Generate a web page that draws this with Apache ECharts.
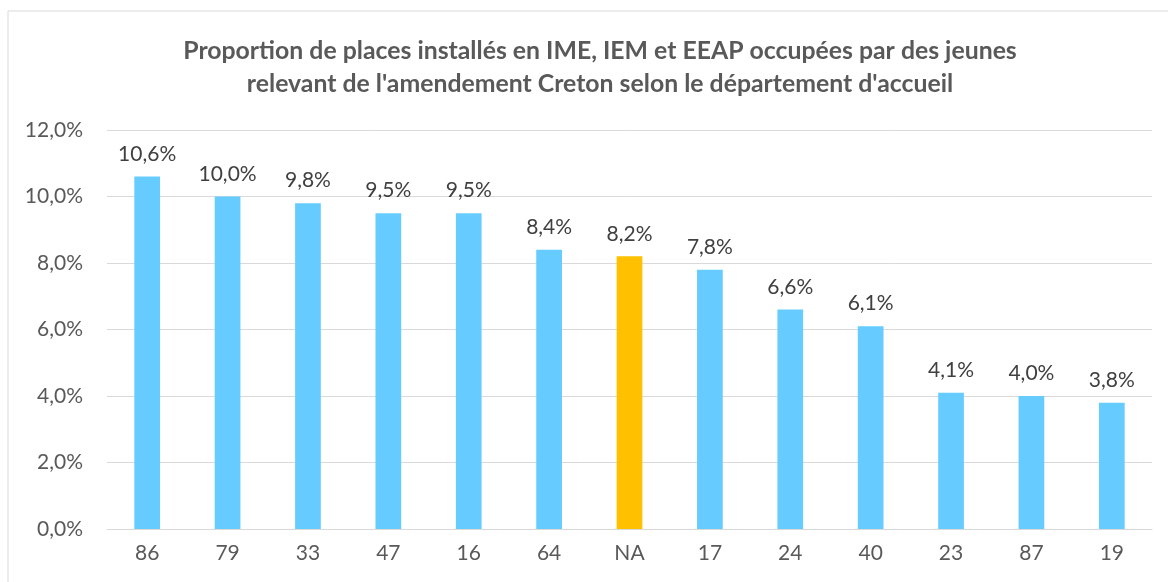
<!DOCTYPE html>
<html>
<head>
<meta charset="utf-8">
<script src="https://cdn.jsdelivr.net/npm/echarts@6/dist/echarts.min.js"></script>
<style>
  html, body { margin: 0; padding: 0; background: #fff; }
  #chart { width: 1168px; height: 582px; }
</style>
</head>
<body>
<div id="chart"></div>
<script>
(function () {
    'use strict';

    // Departements, sorted by share
    const departements = ['86', '79', '33', '47', '16', '64', 'NA', '17', '24', '40', '23', '87', '19'];
    const proportions = [10.6, 10.0, 9.8, 9.5, 9.5, 8.4, 8.2, 7.8, 6.6, 6.1, 4.1, 4.0, 3.8];
    const highlighted = ['NA'];

    const blue = '#66CCFF';
    const orange = '#FFC000';
    const textColor = '#595959';
    const font = 'Lato';

    const pct = v => v.toFixed(1).replace('.', ',') + '%';

    const chart = echarts.init(document.getElementById('chart'));

    chart.setOption({
        animation: false,
        backgroundColor: '#fff',
        title: {
            text: 'Proportion de places installés en IME, IEM et EEAP occupées par des jeunes\nrelevant de l\'amendement Creton selon le département d\'accueil',
            left: 595,
            textAlign: 'center',
            top: 30,
            textStyle: {
                fontFamily: font,
                fontWeight: 'bold',
                fontSize: 24.8,
                lineHeight: 33,
                color: textColor
            }
        },
        graphic: [{
            type: 'rect',
            shape: { x: 8, y: 11, width: 1170, height: 580 },
            style: { fill: 'none', stroke: '#d9d9d9', lineWidth: 1 },
            silent: true
        }],
        grid: { left: 107, right: 16, top: 130, bottom: 53 },
        xAxis: {
            type: 'category',
            data: departements,
            axisLine: { lineStyle: { color: '#d9d9d9', width: 1 } },
            axisTick: { show: false },
            axisLabel: { color: textColor, fontFamily: font, fontSize: 21, margin: 14 }
        },
        yAxis: {
            type: 'value',
            min: 0,
            max: 12,
            interval: 2,
            axisLine: { show: false },
            axisTick: { show: false },
            splitLine: { lineStyle: { color: '#d9d9d9', width: 1 } },
            axisLabel: { color: textColor, fontFamily: font, fontSize: 21, margin: 24, formatter: pct }
        },
        series: [{
            type: 'bar',
            barWidth: '32%',
            data: proportions.map((v, i) => ({
                value: v,
                itemStyle: { color: highlighted.includes(departements[i]) ? orange : blue }
            })),
            label: {
                show: true,
                position: 'top',
                distance: 12,
                color: '#404040',
                fontFamily: font,
                fontSize: 21,
                formatter: p => pct(p.value)
            }
        }]
    });
}());
</script>
</body>
</html>
